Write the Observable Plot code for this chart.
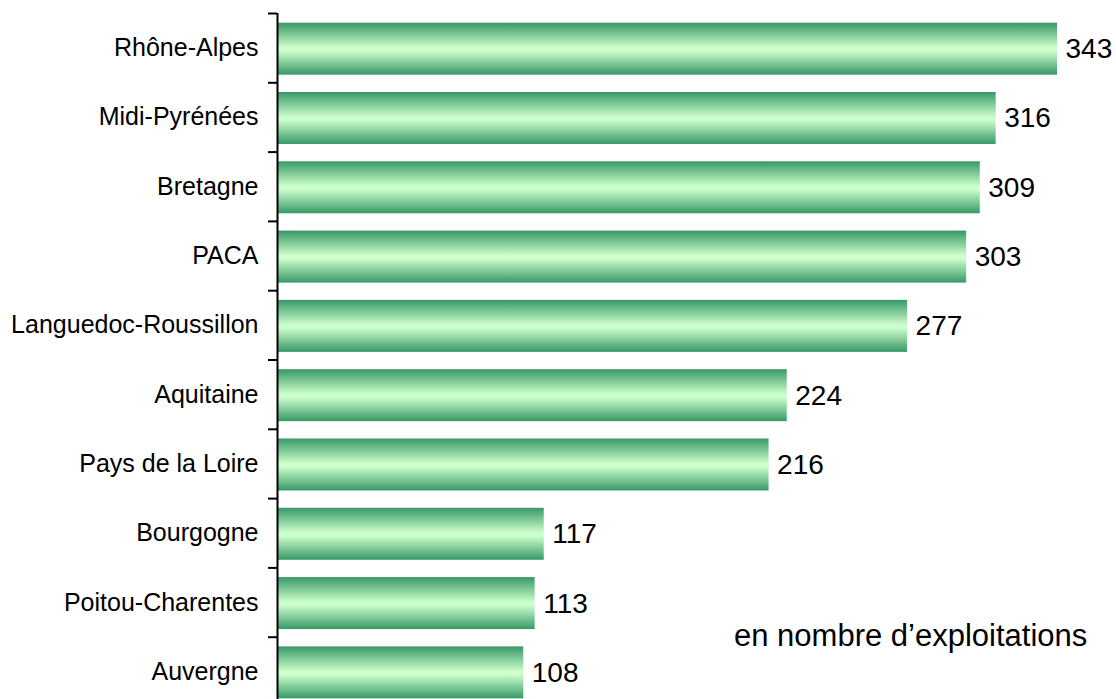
<!DOCTYPE html>
<html>
<head>
<meta charset="utf-8">
<script src="https://cdn.jsdelivr.net/npm/d3@7"></script>
<script src="https://cdn.jsdelivr.net/npm/@observablehq/plot@0.6"></script>
<style>
  html, body { margin: 0; padding: 0; background: #fff; }
  #chart { width: 1116px; height: 699px; overflow: hidden; position: relative; }
  #note { position: absolute; left: 734px; top: 618px; font: 31px "Liberation Sans", Arial, sans-serif; color: #000; white-space: nowrap; }
</style>
</head>
<body>
<div id="chart"></div>
<script>
const regions = ["Rhône-Alpes", "Midi-Pyrénées", "Bretagne", "PACA", "Languedoc-Roussillon",
  "Aquitaine", "Pays de la Loire", "Bourgogne", "Poitou-Charentes", "Auvergne"];
const values = [343, 316, 309, 303, 277, 224, 216, 117, 113, 108];
const note = "en nombre d\u2019exploitations";

const data = regions.map((region, i) => ({region, value: values[i], i}));

const defs = () => {
  const d = d3.create("svg:defs");
  const g = d.append("linearGradient").attr("id", "barGrad")
    .attr("x1", 0).attr("y1", 0).attr("x2", 0).attr("y2", 1);
  g.append("stop").attr("offset", "0%").attr("stop-color", "#389868");
  g.append("stop").attr("offset", "48%").attr("stop-color", "#ccffcc");
  g.append("stop").attr("offset", "54%").attr("stop-color", "#ccffcc");
  g.append("stop").attr("offset", "100%").attr("stop-color", "#389868");
  return d.node();
};

const chart = Plot.plot({
  width: 1116,
  height: 699,
  marginLeft: 278,
  marginRight: 59,
  marginTop: 13,
  marginBottom: 0,
  style: {fontFamily: "'Liberation Sans', Arial, sans-serif", background: "#fff", overflow: "hidden"},
  x: {type: "linear", domain: [0, 343], axis: null},
  y: {type: "linear", domain: [0, 10], range: [13, 706], axis: null},
  marks: [
    defs,
    Plot.rect(data, {x1: 0, x2: "value", y1: d => d.i + 0.14, y2: d => d.i + 0.89, fill: "url(#barGrad)"}),
    Plot.text(data, {x: "value", y: d => d.i + 0.515, text: d => String(d.value), dx: 8,
      textAnchor: "start", fontSize: 28, fill: "#000"}),
    Plot.axisY({ticks: d3.range(0, 11), tickSize: 9, tickFormat: () => "", strokeWidth: 2, stroke: "#000", dx: -1}),
    Plot.axisY({ticks: d3.range(10).map(i => i + 0.5), tickSize: 0, tickPadding: 20,
      tickFormat: v => regions[Math.floor(v)], fontSize: 25, fill: "#000"}),
    Plot.ruleX([0], {y1: 0, y2: 10, stroke: "#000", strokeWidth: 2, dx: -1})
  ]
});
document.getElementById("chart").appendChild(chart);
const n = document.createElement("div");
n.id = "note";
n.textContent = note;
document.getElementById("chart").appendChild(n);
</script>
</body>
</html>
